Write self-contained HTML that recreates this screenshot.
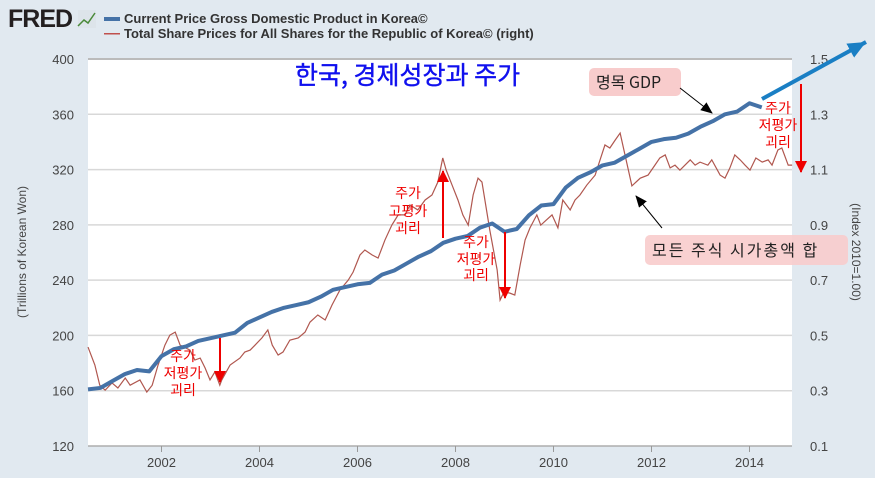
<!DOCTYPE html>
<html><head><meta charset="utf-8"><style>
body{margin:0;width:875px;height:473px;overflow:hidden;background:#e1e9f0;font-family:"Liberation Sans","Noto Sans CJK KR",sans-serif}
</style></head><body>
<svg id="c" width="875" height="473" xmlns="http://www.w3.org/2000/svg">
<defs>
<marker id="ar" markerUnits="userSpaceOnUse" markerWidth="12" markerHeight="14" refX="11" refY="6" orient="auto"><path d="M0,0 L12,6 L0,12 z" fill="#e00"/></marker>
<marker id="ab" markerUnits="userSpaceOnUse" markerWidth="12" markerHeight="12" refX="11" refY="5" orient="auto"><path d="M0,0 L12,5 L0,10 z" fill="#000"/></marker>
<marker id="au" markerUnits="userSpaceOnUse" markerWidth="20" markerHeight="20" refX="18" refY="8" orient="auto"><path d="M0,0 L18,8 L0,16 z" fill="#1a7fc4"/></marker>
</defs>
<g>
<text x="8" y="27" font-size="25" font-weight="bold" fill="#231f20" letter-spacing="-1">FRED</text>
<rect x="78" y="10" width="18" height="18" fill="#dde4ea"/>
<polyline points="78,26 84,20 88,23 95,13" fill="none" stroke="#4a8a3a" stroke-width="1.5"/>
<rect x="104" y="17" width="16" height="4" fill="#4572a7"/>
<text x="124" y="23" font-size="13" font-weight="bold" fill="#333">Current Price Gross Domestic Product in Korea©</text>
<rect x="104" y="33" width="16" height="1.5" fill="#c0504d"/>
<text x="124" y="38" font-size="13" font-weight="bold" fill="#333">Total Share Prices for All Shares for the Republic of Korea© (right)</text>
</g>
<rect x="88" y="59" width="704" height="387" fill="#fff"/>
<g id="grid"></g><g id="axes"></g><g id="series"></g>
<text transform="translate(26,252) rotate(-90)" font-size="12" fill="#444" text-anchor="middle">(Trillions of Korean Won)</text>
<text transform="translate(852,252) rotate(90)" font-size="12" fill="#444" text-anchor="middle">(Index 2010=1.00)</text>
<g font-family="'Noto Sans CJK KR','NanumGothic',sans-serif">
<text x="295" y="84" font-size="25" fill="#1010ee" stroke="#1010ee" stroke-width="0.4">한국, 경제성장과 주가</text>
<rect x="589" y="68" width="92" height="28" rx="5" fill="#f8cccc"/>
<text x="596" y="88" font-size="16" fill="#222">명목 GDP</text>
<rect x="645" y="235" width="203" height="30" rx="5" fill="#f8cccc" opacity="0.9"/>
<text x="652" y="256" font-size="16" fill="#222" letter-spacing="2">모든 주식 시가총액 합</text>
<line x1="680" y1="88" x2="712" y2="113" stroke="#000" stroke-width="1" marker-end="url(#ab)"/>
<line x1="662" y1="228" x2="636" y2="196" stroke="#000" stroke-width="1" marker-end="url(#ab)"/>
<line x1="762" y1="99" x2="866" y2="42" stroke="#1a7fc4" stroke-width="4" marker-end="url(#au)"/>
<g fill="#e00" font-size="14" text-anchor="middle">
<text x="183" y="361">주가</text><text x="183" y="378">저평가</text><text x="183" y="395">괴리</text>
<text x="408" y="198">주가</text><text x="408" y="216">고평가</text><text x="408" y="233">괴리</text>
<text x="476" y="247">주가</text><text x="476" y="264">저평가</text><text x="476" y="280">괴리</text>
<text x="778" y="113">주가</text><text x="778" y="130">저평가</text><text x="778" y="147">괴리</text>
</g>
<g stroke="#e00" stroke-width="2">
<line x1="220" y1="338" x2="220" y2="382" marker-end="url(#ar)"/>
<line x1="443" y1="238" x2="443" y2="171" marker-end="url(#ar)"/>
<line x1="505" y1="232" x2="505" y2="298" marker-end="url(#ar)"/>
<line x1="801" y1="84" x2="801" y2="172" marker-end="url(#ar)"/>
</g>
</g>
</svg>
<script>
const leftTicks=[120,160,200,240,280,320,360,400];
const rightTicks=[0.1,0.3,0.5,0.7,0.9,1.1,1.3,1.5];
const yearTicks=[2002,2004,2006,2008,2010,2012,2014];
const gdpValues=[161,162,167,172,175,174,185,190,192,196,198,200,202,209,213,217,220,222,224,228,233,235,237,238,244,247,252,257,261,267,270,272,278,281,275,277,287,294,295,307,314,318,323,325,330,335,340,342,343,346,351,355,360,362,368,365];
const gdpStart=2000.5;
const shareDates=[2000.50,2000.64,2000.74,2000.85,2000.99,2001.11,2001.26,2001.36,2001.56,2001.70,2001.81,2001.93,2002.07,2002.17,2002.28,2002.38,2002.58,2002.68,2002.79,2002.89,2002.99,2003.09,2003.19,2003.23,2003.40,2003.60,2003.70,2003.81,2003.91,2004.05,2004.17,2004.26,2004.38,2004.48,2004.62,2004.79,2004.93,2005.03,2005.19,2005.34,2005.48,2005.64,2005.81,2005.91,2006.05,2006.15,2006.30,2006.42,2006.56,2006.70,2006.83,2006.97,2007.07,2007.23,2007.38,2007.52,2007.64,2007.74,2007.81,2007.93,2008.05,2008.15,2008.26,2008.36,2008.46,2008.54,2008.70,2008.85,2008.91,2008.99,2009.11,2009.21,2009.32,2009.42,2009.52,2009.66,2009.74,2009.85,2009.97,2010.09,2010.19,2010.34,2010.44,2010.54,2010.68,2010.85,2010.95,2011.05,2011.15,2011.26,2011.36,2011.60,2011.77,2011.93,2012.07,2012.17,2012.28,2012.38,2012.48,2012.58,2012.79,2012.89,2012.99,2013.15,2013.23,2013.40,2013.50,2013.60,2013.70,2013.81,2013.91,2014.01,2014.13,2014.26,2014.38,2014.46,2014.58,2014.66,2014.79,2014.87];
const shareValues=[0.458,0.393,0.320,0.302,0.328,0.310,0.346,0.320,0.339,0.295,0.320,0.393,0.465,0.501,0.512,0.465,0.447,0.411,0.418,0.382,0.339,0.368,0.320,0.339,0.393,0.418,0.440,0.447,0.465,0.491,0.520,0.465,0.429,0.440,0.483,0.491,0.512,0.548,0.574,0.556,0.610,0.664,0.700,0.729,0.791,0.809,0.791,0.780,0.845,0.899,0.936,0.936,0.972,0.954,0.990,1.008,1.055,1.142,1.098,1.044,0.990,0.936,0.899,1.008,1.069,1.055,0.881,0.737,0.628,0.657,0.653,0.646,0.755,0.845,0.889,0.936,0.899,0.917,0.936,0.889,0.990,0.954,0.990,1.008,1.044,1.080,1.135,1.189,1.178,1.207,1.232,1.041,1.069,1.080,1.116,1.142,1.153,1.106,1.116,1.098,1.135,1.116,1.127,1.116,1.135,1.080,1.069,1.106,1.153,1.135,1.116,1.098,1.142,1.127,1.135,1.116,1.171,1.178,1.116,1.116];
const NS='http://www.w3.org/2000/svg';
const X0=88,X1=792,Y0=59,Y1=446;
function xS(t){return X0+(t-2000.5)*49;}
function yL(v){return Y1-(v-120)/280*(Y1-Y0);}
function yR(v){return Y1-(v-0.1)/1.4*(Y1-Y0);}
function mk(tag,attrs,parent){const e=document.createElementNS(NS,tag);for(const k in attrs)e.setAttribute(k,attrs[k]);document.getElementById(parent).appendChild(e);return e;}
leftTicks.forEach((v,i)=>{
  const l=mk('line',{x1:X0,x2:X1,y1:yL(v),y2:yL(v),stroke:i==leftTicks.length-1?'#bbb':'#d8d8d8','stroke-width':i==leftTicks.length-1?2:1.5},'grid');
  
  
  const t=mk('text',{x:74,y:yL(v)+5,'font-size':13,fill:'#444','text-anchor':'end'},'axes');
  t.textContent=v;
  
  
});
rightTicks.forEach(v=>{
  const t=mk('text',{x:810,y:yR(v)+5,'font-size':13,fill:'#444'},'axes');
  t.textContent=v.toFixed(1);
  
  
});
yearTicks.forEach(y=>{
  const l=mk('line',{x1:xS(y),x2:xS(y),y1:Y1,y2:Y1+6,stroke:'#999'},'axes');
  
  
  const t=mk('text',{x:xS(y),y:467,'font-size':13,fill:'#444','text-anchor':'middle'},'axes');
  t.textContent=y;
  
  
});
const ax=mk('line',{x1:X0,x2:X1,y1:Y1,y2:Y1,stroke:'#999'},'axes');


const sp=mk('polyline',{points:shareDates.map((d,i)=>xS(d)+','+yR(shareValues[i])).join(' '),fill:'none',stroke:'#b0574f','stroke-width':1.2},'series');


const gp=mk('polyline',{points:gdpValues.map((v,i)=>xS(gdpStart+i*0.25)+','+yL(v)).join(' '),fill:'none',stroke:'#4572a7','stroke-width':4,'stroke-linejoin':'round'},'series');


</script>
</body></html>
